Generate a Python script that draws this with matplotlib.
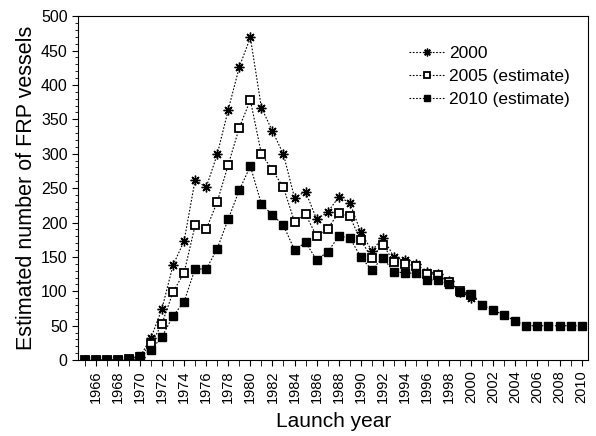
import numpy as np
import matplotlib
matplotlib.use("Agg")
import matplotlib.pyplot as plt
from matplotlib.ticker import MultipleLocator

plt.rcParams['font.family'] = ['Liberation Sans', 'DejaVu Sans']

# --- DATA ---
years_2000 = list(range(1965, 2001))
vals_2000 = [0, 0, 0, 0, 2, 5, 32, 75, 138, 173, 262, 251, 299, 364, 426, 469,
             367, 333, 299, 236, 245, 205, 215, 237, 229, 186, 159, 178, 150, 145,
             140, 128, 125, 115, 99, 91]

years_2005 = list(range(1965, 2001))
vals_2005 = [0, 0, 0, 0, 2, 5, 23, 53, 99, 127, 196, 190, 230, 284, 338, 378,
             300, 276, 251, 201, 212, 180, 191, 214, 209, 174, 149, 168, 143, 140,
             137, 125, 124, 113, 101, 94]

years_2010 = list(range(1965, 2011))
vals_2010 = [0, 0, 0, 0, 2, 6, 15, 34, 64, 85, 133, 132, 162, 205, 247, 282,
             227, 211, 196, 160, 171, 146, 157, 180, 178, 150, 131, 149, 128, 127,
             126, 116, 117, 110, 99, 96, 80, 73, 65, 57, 50, 50, 50, 50, 50, 50]

fig = plt.figure(figsize=(5.96, 4.36), dpi=100)
ax = fig.add_axes([0.131, 0.174, 0.856, 0.789])

line_kw = dict(color='black', linestyle=(0, (1.5, 1.5)), linewidth=0.8)
ax.plot(years_2000, vals_2000, marker=(8, 2, 0), markersize=7, markeredgewidth=1.0,
        label='2000', **line_kw)
ax.plot(years_2005, vals_2005, marker='s', markersize=5.8, markerfacecolor='white',
        markeredgecolor='black', markeredgewidth=1.3, label='2005 (estimate)', **line_kw)
ax.plot(years_2010, vals_2010, marker='s', markersize=5.8, markerfacecolor='black',
        markeredgecolor='black', label='2010 (estimate)', **line_kw)

ax.set_xlim(1964.4, 2010.6)
ax.set_ylim(0, 500)
ax.set_xticks(range(1966, 2011, 2))
ax.xaxis.set_minor_locator(MultipleLocator(1))
ax.yaxis.set_major_locator(MultipleLocator(50))
ax.yaxis.set_minor_locator(MultipleLocator(10))
ax.tick_params(axis='x', which='both', direction='out', length=4, labelsize=10.5,
               labelrotation=90)
ax.tick_params(axis='y', which='major', direction='out', length=4, labelsize=11.5)
ax.tick_params(axis='y', which='minor', direction='out', length=2)

ax.set_xlabel('Launch year', fontsize=15, labelpad=6)
ax.set_ylabel('Estimated number of FRP vessels', fontsize=15.5, labelpad=3)

ax.legend(loc='upper right', bbox_to_anchor=(0.995, 0.96), frameon=False,
          fontsize=12.5, handlelength=2.0, handletextpad=0.3, labelspacing=0.45,
          markerscale=0.8)

fig.savefig('out.png', dpi=100)
